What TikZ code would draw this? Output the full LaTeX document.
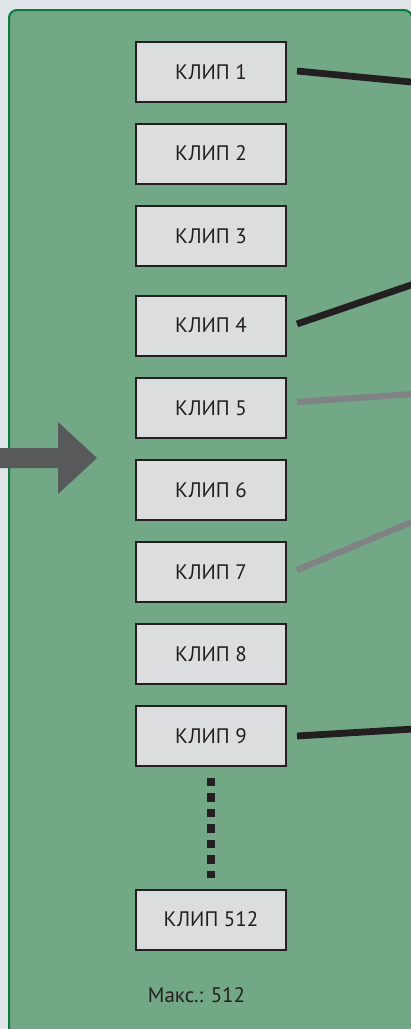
\documentclass[tikz,border=0pt]{standalone}
\usepackage{fontspec}
\setmainfont{PT Sans}
\definecolor{pagebg}{HTML}{DEE4E7}
\definecolor{panelgreen}{HTML}{72A886}
\definecolor{paneledge}{HTML}{0C7B3E}
\definecolor{boxfill}{HTML}{DCDDDF}
\definecolor{inkblack}{HTML}{231F20}
\definecolor{arrowgrey}{HTML}{58595B}
\definecolor{linegrey}{HTML}{808285}
\tikzset{
  clipbox/.style={draw=inkblack, line width=2pt, fill=boxfill, text=inkblack,
    minimum width=150pt, minimum height=60pt, inner sep=0pt, font=\fontsize{21}{25}\selectfont},
  darklink/.style={draw=inkblack, line width=6.8pt},
  greylink/.style={draw=linegrey, line width=6.2pt},
  dotlink/.style={draw=inkblack, line width=8.5pt, dash pattern=on 8.5pt off 7pt}
}
\begin{document}
\begin{tikzpicture}[x=1pt,y=-1pt]
            \useasboundingbox (0,0) rectangle (411,1029);
            \fill[pagebg] (0,0) rectangle (411,1029);
            % outline
            \draw[fill=panelgreen, draw=paneledge, line width=2pt, rounded corners=8pt]
                (9,10) rectangle (412,1045);
            \fill[arrowgrey] (-2,448) -- (58,448) -- (58,422) -- (97,458)
                -- (58,494) -- (58,468) -- (-2,468) -- cycle;
            \node[clipbox] (b1) at (211,72) {КЛИП 1};
            \node[clipbox] (b2) at (211,153.5) {КЛИП 2};
            \node[clipbox] (b3) at (211,236) {КЛИП 3};
            \node[clipbox] (b4) at (211,325.5) {КЛИП 4};
            \node[clipbox] (b5) at (211,408) {КЛИП 5};
            \node[clipbox] (b6) at (211,490) {КЛИП 6};
            \node[clipbox] (b7) at (211,572) {КЛИП 7};
            \node[clipbox] (b8) at (211,654) {КЛИП 8};
            \node[clipbox] (b9) at (211,736) {КЛИП 9};
            \node[clipbox] (b512) at (211,919.5) {КЛИП 512};
            \node[anchor=base, text=inkblack, font=\fontsize{21}{25}\selectfont] (maxnote) at (196.5,1002) {Макс.: 512};
            \draw[dotlink] ([yshift=-10.5pt]b9.south) -- ([yshift=10.5pt]b512.north);
            \coordinate (e1) at (414,82.3);
            \coordinate (e4) at (414,284);
            \coordinate (e5) at (414,394);
            \coordinate (e7) at (414,521);
            \coordinate (e9) at (414,729);
            \draw[darklink] ([xshift=10pt,yshift=1pt]b1.east) -- (e1);
            \draw[darklink] ([xshift=10pt,yshift=1.5pt]b4.east) -- (e4);
            \draw[greylink] ([xshift=10pt,yshift=6pt]b5.east) -- (e5);
            \draw[greylink] ([xshift=10pt,yshift=2pt]b7.east) -- (e7);
            \draw[darklink] ([xshift=10pt]b9.east) -- (e9);
        \end{tikzpicture}
\end{document}
